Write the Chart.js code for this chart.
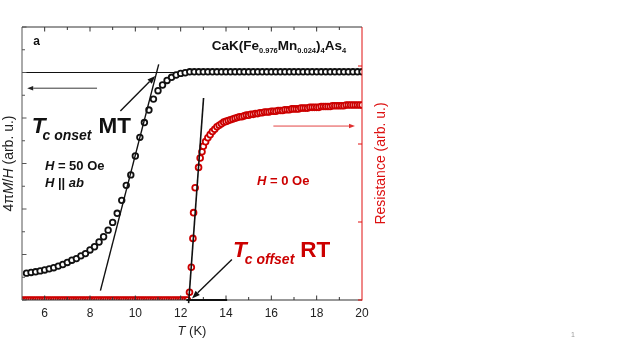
<!DOCTYPE html>
<html lang="en">
<head>
<meta charset="UTF-8">
<script src="https://cdn.jsdelivr.net/npm/chart.js"></script>
<style>
  html, body { margin: 0; padding: 0; background: #fff; }
</style>
</head>
<body>
<canvas id="chart" width="623" height="350"></canvas>
<script>
// magnetisation 4piM/H (left axis), one point every 0.2 K
const tempM = [5.2, 5.4, 5.6, 5.8, 6.0, 6.2, 6.4, 6.6, 6.8, 7.0, 7.2, 7.4, 7.6, 7.8, 8.0, 8.2, 8.4, 8.6, 8.8, 9.0,
  9.2, 9.4, 9.6, 9.8, 10.0, 10.2, 10.4, 10.6, 10.8, 11.0, 11.2, 11.4, 11.6, 11.8, 12.0, 12.2, 12.4, 12.6, 12.8, 13.0,
  13.2, 13.4, 13.6, 13.8, 14.0, 14.2, 14.4, 14.6, 14.8, 15.0, 15.2, 15.4, 15.6, 15.8, 16.0, 16.2, 16.4, 16.6, 16.8, 17.0,
  17.2, 17.4, 17.6, 17.8, 18.0, 18.2, 18.4, 18.6, 18.8, 19.0, 19.2, 19.4, 19.6, 19.8, 20.0];
const magM = [1.18, 1.21, 1.24, 1.28, 1.32, 1.37, 1.42, 1.49, 1.56, 1.65, 1.75, 1.82, 1.94, 2.04, 2.2, 2.34, 2.55, 2.78, 3.07, 3.41,
  3.81, 4.38, 5.04, 5.5, 6.33, 7.15, 7.8, 8.35, 8.83, 9.2, 9.45, 9.65, 9.79, 9.89, 9.96, 9.99, 10.03, 10.03, 10.03, 10.03,
  10.03, 10.03, 10.03, 10.03, 10.03, 10.03, 10.03, 10.03, 10.03, 10.03, 10.03, 10.03, 10.03, 10.03, 10.03, 10.03, 10.03, 10.03, 10.03, 10.03,
  10.03, 10.03, 10.03, 10.03, 10.03, 10.03, 10.03, 10.03, 10.03, 10.03, 10.03, 10.03, 10.03, 10.03, 10.03];

// resistance (right axis)
const tempR = [5.0, 5.1, 5.2, 5.3, 5.4, 5.5, 5.6, 5.7, 5.8, 5.9, 6.0, 6.1, 6.2, 6.3, 6.4, 6.5, 6.6, 6.7, 6.8, 6.9,
  7.0, 7.1, 7.2, 7.3, 7.4, 7.5, 7.6, 7.7, 7.8, 7.9, 8.0, 8.1, 8.2, 8.3, 8.4, 8.5, 8.6, 8.7, 8.8, 8.9,
  9.0, 9.1, 9.2, 9.3, 9.4, 9.5, 9.6, 9.7, 9.8, 9.9, 10.0, 10.1, 10.2, 10.3, 10.4, 10.5, 10.6, 10.7, 10.8, 10.9,
  11.0, 11.1, 11.2, 11.3, 11.4, 11.5, 11.6, 11.7, 11.8, 11.9, 12.0, 12.1, 12.2, 12.3,
  12.39, 12.47, 12.54, 12.57, 12.64, 12.79, 12.86, 12.94,
  13.0, 13.1, 13.2, 13.3, 13.4, 13.5, 13.6, 13.7, 13.8, 13.9, 14.0, 14.1, 14.2, 14.3, 14.4, 14.5, 14.6, 14.7, 14.8, 14.9,
  15.0, 15.1, 15.2, 15.3, 15.4, 15.5, 15.6, 15.7, 15.8, 15.9, 16.0, 16.1, 16.2, 16.3, 16.4, 16.5, 16.6, 16.7, 16.8, 16.9,
  17.0, 17.1, 17.2, 17.3, 17.4, 17.5, 17.6, 17.7, 17.8, 17.9, 18.0, 18.1, 18.2, 18.3, 18.4, 18.5, 18.6, 18.7, 18.8, 18.9,
  19.0, 19.1, 19.2, 19.3, 19.4, 19.5, 19.6, 19.7, 19.8, 19.9, 20.0];
const resR = [0, 0, 0, 0, 0, 0, 0, 0, 0, 0, 0, 0, 0, 0, 0, 0, 0, 0, 0, 0,
  0, 0, 0, 0, 0, 0, 0, 0, 0, 0, 0, 0, 0, 0, 0, 0, 0, 0, 0, 0,
  0, 0, 0, 0, 0, 0, 0, 0, 0, 0, 0, 0, 0, 0, 0, 0, 0, 0, 0, 0,
  0, 0, 0, 0, 0, 0, 0, 0, 0, 0, 0, 0, 0, 0,
  0.1, 0.42, 0.79, 1.12, 1.44, 1.7, 1.82, 1.9,
  1.97, 2.03, 2.08, 2.12, 2.16, 2.19, 2.22, 2.24, 2.26, 2.28, 2.29, 2.3, 2.31, 2.32, 2.33, 2.34, 2.35, 2.35, 2.36, 2.37,
  2.37, 2.38, 2.38, 2.39, 2.39, 2.4, 2.4, 2.41, 2.41, 2.41, 2.42, 2.42, 2.42, 2.43, 2.43, 2.43, 2.44, 2.44, 2.44, 2.45,
  2.45, 2.45, 2.45, 2.46, 2.46, 2.46, 2.46, 2.47, 2.47, 2.47, 2.47, 2.47, 2.48, 2.48, 2.48, 2.48, 2.48, 2.49, 2.49, 2.49,
  2.49, 2.49, 2.49, 2.5, 2.5, 2.5, 2.5, 2.5, 2.5, 2.5, 2.5];

// axes
const xMajor = [6, 8, 10, 12, 14, 16, 18, 20];
const xMinor = [5, 7, 9, 11, 13, 15, 17, 19];
const yMajor = [0, 2, 4, 6, 8, 10, 12];
const yMinor = [1, 3, 5, 7, 9, 11];
const y2Ticks = [0, 1, 2, 3];

const RED = '#cc0000';
const FONT = '"Liberation Sans", Arial, sans-serif';

// guide lines and arrows, in data units [T, value]
const satLine = [[5, 10], [20, 10]];             // left axis
const fitMT = [[8.46, 0.41], [11.03, 10.36]];    // left axis
const arrowOnset = [[9.34, 8.31], [10.88, 9.85]];
const arrowLeft = [[8.31, 9.31], [5.23, 9.31]];
const fitRT = [[12.35, -0.04], [13.01, 2.59]];   // right axis
const baseRT = [[12.25, 0], [14.05, 0]];
const arrowOffset = [[14.26, 0.52], [12.5, 0.02]];
const arrowRight = [[16.09, 2.23], [19.69, 2.23]];

function line(ctx, p1, p2, color, lw) {
    ctx.strokeStyle = color; ctx.lineWidth = lw;
    ctx.beginPath(); ctx.moveTo(p1[0], p1[1]); ctx.lineTo(p2[0], p2[1]); ctx.stroke();
}

function arrow(ctx, p1, p2, color, lw, head) {
    const a = Math.atan2(p2[1] - p1[1], p2[0] - p1[0]);
    const bx = p2[0] - head * Math.cos(a), by = p2[1] - head * Math.sin(a);
    line(ctx, p1, [bx, by], color, lw);
    const w = head * 0.38;
    ctx.fillStyle = color;
    ctx.beginPath();
    ctx.moveTo(p2[0], p2[1]);
    ctx.lineTo(bx + w * Math.sin(a), by - w * Math.cos(a));
    ctx.lineTo(bx - w * Math.sin(a), by + w * Math.cos(a));
    ctx.closePath(); ctx.fill();
}

// draws a row of text pieces with their own fonts
function runs(ctx, x, y, parts, color) {
    ctx.fillStyle = color; ctx.textAlign = 'left'; ctx.textBaseline = 'alphabetic';
    for (const p of parts) {
        x += p.dx || 0;
        ctx.font = p.f;
        ctx.fillText(p.t, x, y + (p.dy || 0));
        x += ctx.measureText(p.t).width;
    }
}

function runsWidth(ctx, parts) {
    let w = 0;
    for (const p of parts) { ctx.font = p.f; w += ctx.measureText(p.t).width + (p.dx || 0); }
    return w;
}

const decor = {
    id: 'decor',
    beforeDatasetsDraw(chart) {
        const { ctx, scales: { x, y } } = chart;
        ctx.save();
        line(ctx, [x.getPixelForValue(satLine[0][0]), y.getPixelForValue(satLine[0][1])],
            [x.getPixelForValue(satLine[1][0]), y.getPixelForValue(satLine[1][1])], '#111', 1);
        ctx.restore();
    },
    afterDatasetsDraw(chart) {
        const { ctx, chartArea: ca, scales: { x, y, y2 } } = chart;
        const L = p => [x.getPixelForValue(p[0]), y.getPixelForValue(p[1])];
        const R = p => [x.getPixelForValue(p[0]), y2.getPixelForValue(p[1])];
        ctx.save();

        // frame
        line(ctx, [ca.left, ca.top], [ca.left, ca.bottom], '#555', 1);
        line(ctx, [ca.left, ca.bottom], [ca.right, ca.bottom], '#333', 1.2);
        line(ctx, [ca.left, ca.top], [ca.right, ca.top], '#333', 1);
        line(ctx, [ca.right, ca.top], [ca.right, ca.bottom + 0.5], '#e01010', 1);

        // ticks
        xMajor.concat(xMinor).forEach(v => {
            const px = x.getPixelForValue(v), len = xMajor.includes(v) ? 4.5 : 3;
            if (v > 5 && v < 20) {
                line(ctx, [px, ca.bottom], [px, ca.bottom - len], '#333', 1);
                line(ctx, [px, ca.top], [px, ca.top + len], '#333', 1);
            }
        });
        yMajor.concat(yMinor).forEach(v => {
            const py = y.getPixelForValue(v), len = yMajor.includes(v) ? 4.5 : 3;
            line(ctx, [ca.left, py], [ca.left + len, py], '#555', 1);
        });
        y2Ticks.forEach(v => {
            const py = y2.getPixelForValue(v);
            line(ctx, [ca.right, py], [ca.right - 4, py], '#e01010', 1);
        });

        // x tick labels
        ctx.fillStyle = '#222'; ctx.font = '12px ' + FONT;
        ctx.textAlign = 'center'; ctx.textBaseline = 'alphabetic';
        xMajor.forEach(v => ctx.fillText(String(v), x.getPixelForValue(v), ca.bottom + 16.5));

        // guide lines and arrows
        line(ctx, L(fitMT[0]), L(fitMT[1]), '#111', 1.4);
        arrow(ctx, L(arrowOnset[0]), L(arrowOnset[1]), '#111', 1.4, 8);
        arrow(ctx, L(arrowLeft[0]), L(arrowLeft[1]), '#222', 0.9, 6);
        line(ctx, R(fitRT[0]), R(fitRT[1]), '#111', 1.6);
        line(ctx, R(baseRT[0]), R(baseRT[1]), '#111', 2);
        arrow(ctx, R(arrowOffset[0]), R(arrowOffset[1]), '#111', 1.4, 8);
        arrow(ctx, R(arrowRight[0]), R(arrowRight[1]), '#e03030', 0.9, 6);

        // labels inside the plot
        const bi = s => 'italic bold ' + s + 'px ' + FONT;
        const b = s => 'bold ' + s + 'px ' + FONT;
        let p = L([5.5, 11.21]);
        runs(ctx, p[0], p[1], [{ t: 'a', f: b(12) }], '#111');
        p = L([13.37, 10.99]);
        runs(ctx, p[0], p[1], [
            { t: 'CaK(Fe', f: b(13.5) }, { t: '0.976', f: b(7.5), dy: 3.5 },
            { t: 'Mn', f: b(13.5) }, { t: '0.024', f: b(7.5), dy: 3.5 },
            { t: ')', f: b(13.5) }, { t: '4', f: b(7.5), dy: 3.5 },
            { t: 'As', f: b(13.5) }, { t: '4', f: b(7.5), dy: 3.5 }], '#111');
        p = L([5.43, 7.33]);
        runs(ctx, p[0], p[1], [
            { t: 'T', f: bi(22.5) }, { t: 'c onset', f: bi(14), dy: 6.7, dx: -3 },
            { t: 'MT', f: b(22.5), dx: 7 }], '#111');
        p = L([6.01, 5.71]);
        runs(ctx, p[0], p[1], [{ t: 'H', f: bi(13) }, { t: ' = 50 Oe', f: b(13) }], '#111');
        p = L([6.01, 4.97]);
        runs(ctx, p[0], p[1], [{ t: 'H', f: bi(13) }, { t: ' || ', f: b(13) }, { t: 'ab', f: bi(13) }], '#111');
        p = R([15.37, 1.47]);
        runs(ctx, p[0], p[1], [{ t: 'H', f: bi(13) }, { t: ' = 0 Oe', f: b(13) }], RED);
        p = R([14.31, 0.55]);
        runs(ctx, p[0], p[1], [
            { t: 'T', f: bi(22.5) }, { t: 'c offset', f: bi(14), dy: 7, dx: -2 },
            { t: 'RT', f: b(22.5), dx: 6 }], RED);

        // axis titles
        const xt = [{ t: 'T', f: 'italic 13px ' + FONT }, { t: ' (K)', f: '13px ' + FONT }];
        runs(ctx, (ca.left + ca.right) / 2 - runsWidth(ctx, xt) / 2, ca.bottom + 35, xt, '#222');

        const midY = (ca.top + ca.bottom) / 2;
        const yt = [{ t: '4\u03c0', f: '14px ' + FONT }, { t: 'M', f: 'italic 14px ' + FONT },
            { t: '/', f: '14px ' + FONT }, { t: 'H', f: 'italic 14px ' + FONT }, { t: ' (arb. u.)', f: '14px ' + FONT }];
        ctx.save();
        ctx.translate(ca.left - 9, midY);
        ctx.rotate(-Math.PI / 2);
        runs(ctx, -runsWidth(ctx, yt) / 2, 0, yt, '#222');
        ctx.restore();

        const rt = [{ t: 'Resistance (arb. u.)', f: '14px ' + FONT }];
        ctx.save();
        ctx.translate(ca.right + 23, midY);
        ctx.rotate(-Math.PI / 2);
        runs(ctx, -runsWidth(ctx, rt) / 2, 0, rt, '#dd1111');
        ctx.restore();

        // slide number
        ctx.fillStyle = '#999'; ctx.font = '7px ' + FONT; ctx.textAlign = 'center';
        ctx.fillText('1', 573, 337);

        ctx.restore();
    }
};

new Chart(document.getElementById('chart'), {
    type: 'scatter',
    data: {
        datasets: [{
            label: 'M',
            data: tempM.map((t, i) => ({ x: t, y: magM[i] })),
            yAxisID: 'y',
            borderColor: '#111',
            backgroundColor: '#fff',
            pointRadius: 2.8,
            pointBorderWidth: 1.8,
        }, {
            label: 'R',
            data: tempR.map((t, i) => ({ x: t, y: resR[i] })),
            yAxisID: 'y2',
            borderColor: RED,
            backgroundColor: '#fff',
            pointRadius: 2.9,
            pointBorderWidth: 1.8,
        }]
    },
    options: {
        responsive: false,
        animation: false,
        devicePixelRatio: 1,
        layout: { padding: { top: 27, left: 0, right: 0, bottom: 0 } },
        plugins: {
            legend: { display: false },
            tooltip: { enabled: false }
        },
        scales: {
            x: {
                type: 'linear', min: 5, max: 20,
                grid: { display: false }, border: { display: false }, ticks: { display: false },
                afterFit: s => { s.height = 50; }
            },
            y: {
                position: 'left', min: 0, max: 12,
                grid: { display: false }, border: { display: false }, ticks: { display: false },
                afterFit: s => { s.width = 22; }
            },
            y2: {
                position: 'right', min: 0, max: 3.5,
                grid: { display: false }, border: { display: false }, ticks: { display: false },
                afterFit: s => { s.width = 261; }
            }
        }
    },
    plugins: [decor]
});
</script>
</body>
</html>
